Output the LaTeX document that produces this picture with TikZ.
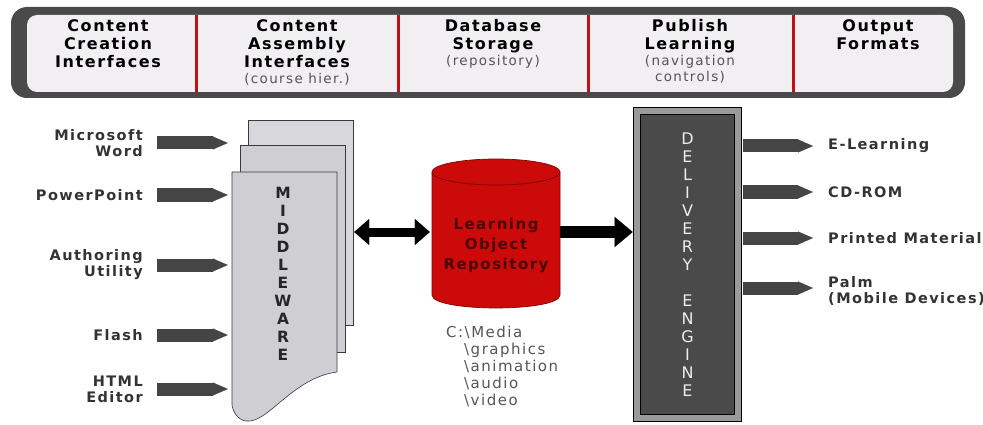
\documentclass[tikz,border=0pt]{standalone}
\usepackage{fontspec}
\setmainfont{DejaVu Sans}
\newfontfamily\comic[LetterSpace=10,BoldFont={DejaVu Sans Bold}]{DejaVu Sans}
\usetikzlibrary{arrows.meta,calc}
\definecolor{bannerdark}{HTML}{4A4A4A}
\definecolor{bannerin}{HTML}{F1EFF1}
\definecolor{divred}{HTML}{C01018}
\definecolor{pagefill}{HTML}{CFCFD3}
\definecolor{pageback}{HTML}{D8D8DC}
\definecolor{pageedge}{HTML}{3A3A3A}
\definecolor{blk}{HTML}{454545}
\definecolor{dbred}{HTML}{CC0A0A}
\definecolor{dbedge}{HTML}{7A0505}
\definecolor{dbtext}{HTML}{4A0808}
\definecolor{engfill}{HTML}{4A4A4A}
\definecolor{engrim}{HTML}{9A9A9A}
\definecolor{lbltext}{HTML}{333333}
\definecolor{subtext}{HTML}{555555}
\tikzset{
  hdr/.style={font=\comic\bfseries\fontsize{16}{18}\selectfont, align=center, anchor=north, inner sep=0pt, text=black},
  lbl/.style={font=\comic\bfseries\fontsize{14.5}{16}\selectfont, align=right, anchor=east, inner sep=0pt, text=lbltext},
  outlbl/.style={font=\comic\bfseries\fontsize{14.5}{16}\selectfont, align=left, anchor=west, inner sep=0pt, text=lbltext},
  blockarr/.style={draw=blk, line width=13pt, -{Triangle[length=15pt,width=13pt,line width=0.1pt]}},
  dblarr/.style={draw=black, line width=9pt, {Triangle[length=15pt,width=26pt,line width=0.1pt]}-{Triangle[length=15pt,width=26pt,line width=0.1pt]}},
  bigarr/.style={draw=black, line width=12pt, -{Triangle[length=18pt,width=30pt,line width=0.1pt]}},
  pagebox/.style={draw=pageedge, line width=0.6pt},
  vtxt/.style={align=center, inner sep=0pt, text=black!85, font=\comic\bfseries\fontsize{15.5}{18}\selectfont},
  engine/.style={minimum width=101pt, minimum height=307pt, fill=engfill, draw=black, double=engrim, double distance=6pt, line width=0.6pt, inner sep=0pt, align=center, text=white!85!gray, font=\comic\fontsize{16}{18}\selectfont},
  dbtxt/.style={align=center, inner sep=0pt, text=dbtext, font=\comic\bfseries\fontsize{15}{20}\selectfont},
  pathtxt/.style={align=left, inner sep=0pt, text=subtext, font=\comic\fontsize{15}{17}\selectfont},
}
\newcommand{\subline}[1]{{\mdseries\fontsize{13.5}{16}\selectfont\color{subtext}#1}}
\begin{document}
\begin{tikzpicture}[x=1pt,y=-1pt]
\useasboundingbox (0,0) rectangle (983,425);
% banner
\fill[bannerdark, rounded corners=16pt] (11,7) rectangle (965,98);
\fill[bannerin, rounded corners=10pt] (27,15) rectangle (953,92);
\foreach \x in {196,398,588,793} \draw[divred, line width=3pt] (\x,15) -- (\x,92);
\node[hdr] (h1) at (108,19) {Content\\Creation\\Interfaces};
\node[hdr] (h2) at (297,19) {Content\\Assembly\\Interfaces\\[-2pt]\subline{(course hier.)}};
\node[hdr] (h3) at (493,19) {Database\\Storage\\[-2pt]\subline{(repository)}};
\node[hdr] (h4) at (690,19) {Publish\\Learning\\[-2pt]\subline{(navigation}\\[-2pt]\subline{controls)}};
\node[hdr] (h5) at (878,19) {Output\\Formats};
% middleware pages
\fill[pageback] (248,120) rectangle (353,325);
\draw[pagebox] (248,120) rectangle (353,325);
\fill[pagefill] (240,145) rectangle (345,352);
\draw[pagebox] (240,145) rectangle (345,352);
\filldraw[pagebox, fill=pagefill] (232,172) -- (337,172) -- (337,372)
  .. controls (292,378) and (268,424) .. (246,421)
  .. controls (238,420) and (233,412) .. (232,405) -- cycle;
\node[vtxt] (mwtxt) at (283,274) {M\\I\\D\\D\\L\\E\\W\\A\\R\\E};
\node[inner sep=0pt, minimum width=121pt, minimum height=302pt] (mw) at (292.5,271) {};
% left labels
\node[lbl] (w1) at (143,143) {Microsoft\\Word};
\node[lbl] (w2) at (143,195) {PowerPoint};
\node[lbl] (w3) at (143,265) {Authoring\\Utility};
\node[lbl] (w4) at (143,335) {Flash};
\node[lbl] (w5) at (143,389) {HTML\\Editor};
\foreach \n in {w1,w2,w3,w4,w5}
  \draw[blockarr, shorten <=14pt, shorten >=4pt] (\n.east) -- (mw.west |- \n.east);
% repository cylinder
\fill[dbred] (432,172) -- (432,295) .. controls (432,312.3) and (560,312.3) .. (560,295) -- (560,172) -- cycle;
\draw[dbedge, line width=0.7pt] (432,172) -- (432,295) .. controls (432,312.3) and (560,312.3) .. (560,295) -- (560,172);
\draw[dbedge, line width=0.7pt, fill=dbred] (496,172) ellipse [x radius=64, y radius=13];
\node[inner sep=0pt, minimum width=128pt, minimum height=150pt] (db) at (496,232) {};
\node[dbtxt] (dbt) at (496,245) {Learning\\Object\\Repository};
\node[pathtxt, anchor=north west] (path) at (446,326) {C:\textbackslash Media\\
\hspace*{18pt}\textbackslash graphics\\
\hspace*{18pt}\textbackslash animation\\
\hspace*{18pt}\textbackslash audio\\
\hspace*{18pt}\textbackslash video};
% delivery engine
\node[engine] (de) at (687.5,264.5) {D\\E\\L\\I\\V\\E\\R\\Y\\[18pt]E\\N\\G\\I\\N\\E};
% connectors
\draw[dblarr, shorten <=1pt, shorten >=2pt] (mw.east |- db.west) -- (db.west);
\draw[bigarr, shorten >=4pt] (db.east) -- (db.east -| de.west);
% outputs
\node[outlbl] (o1) at (828,146) {E-Learning};
\node[outlbl] (o2) at (828,192) {CD-ROM};
\node[outlbl] (o3) at (828,238) {Printed Material};
\node[outlbl] (o4) at (828,291) {Palm\\(Mobile Devices)};
\coordinate (a4) at (0,288);
\foreach \n in {o1,o2,o3}
  \draw[blockarr, shorten <=5pt, shorten >=15pt] (de.east |- \n.west) -- (\n.west);
\draw[blockarr, shorten <=5pt, shorten >=15pt] (de.east |- a4) -- (o4.west |- a4);
\end{tikzpicture}
\end{document}
